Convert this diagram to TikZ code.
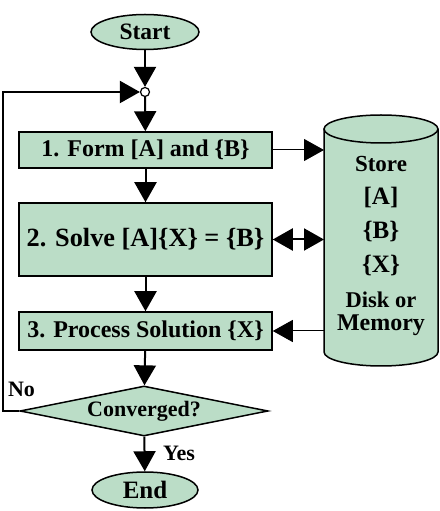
\documentclass[tikz,border=0pt]{standalone}
\usepackage{fontspec}
\setmainfont{Liberation Serif}
\usetikzlibrary{shapes.geometric,arrows.meta}
\definecolor{boxfill}{RGB}{187,221,199}
\newcommand{\fsz}[1]{\fontsize{#1}{#1}\selectfont\bfseries}
\begin{document}
\begin{tikzpicture}[x=1pt,y=1pt,
  lbl/.style={font=\fsz{24}},
  box/.style={draw=black, line width=1.5pt, fill=boxfill, rectangle, minimum width=253pt, inner sep=0pt, lbl},
  term/.style={draw=black, line width=1.5pt, fill=boxfill, ellipse, inner sep=0pt, lbl},
  tip/.tip={Triangle[length=20pt,width=22pt]},
  flow/.style={line width=2pt, -tip},
  flowthin/.style={line width=1pt, -tip},
  flowboth/.style={line width=2pt, tip-tip},
  cyl/.style={line width=1.5pt},
  cyltext/.style={lbl, anchor=base, inner sep=0pt}
]
\useasboundingbox (0,0) rectangle (439,511);
% cylinder
\fill[boxfill] (324,382) -- (324,159) arc[start angle=180,end angle=360,x radius=57,y radius=14]
  -- (438,382) arc[start angle=0,end angle=180,x radius=57,y radius=14] -- cycle;
\draw[cyl] (324,382) -- (324,159) arc[start angle=180,end angle=360,x radius=57,y radius=14] -- (438,382);
\draw[cyl] (381,382) ellipse[x radius=57,y radius=14];
\coordinate (c1) at (324,361);
\coordinate (c2) at (324,271.5);
\coordinate (c3) at (324,180);
\node[cyltext, font=\fsz{23}] (s1) at (381,339) {Store};
\node[cyltext, font=\fsz{25}] (s2) at (381,306) {[A]};
\node[cyltext, font=\fsz{25}] (s3) at (381,272) {\{B\}};
\node[cyltext, font=\fsz{25}] (s4) at (381,238) {\{X\}};
\node[cyltext, font=\fsz{22.5}] (s5) at (381,203) {Disk or};
\node[cyltext, font=\fsz{24}] (s6) at (381,180) {Memory};
% flow nodes
\node[term, minimum width=108pt, minimum height=35pt, font=\fsz{23.5}] (start) at (145,479) {Start};
\node[circle, draw=black, fill=white, line width=1.2pt, minimum size=9pt, inner sep=0pt] (junc) at (145,419) {};
\node[box, minimum height=36pt] (b1) at (145.5,361) {1. Form [A] and \{B\}};
\node[box, minimum height=73pt, font=\fsz{26.3}] (b2) at (145.5,271.5) {2. Solve [A]\{X\} = \{B\}};
\node[box, minimum height=38pt] (b3) at (145.5,180) {3. Process Solution \{X\}};
\node[diamond, draw=black, fill=boxfill, line width=1.5pt, aspect=4.96, minimum width=248pt, minimum height=50pt, inner sep=0pt, font=\fsz{22}] (dia) at (144,100) {Converged?};
\node[term, minimum width=106pt, minimum height=36pt, font=\fsz{25}] (end) at (145,21) {End};
\coordinate (fb) at (3,100);
% connectors
\draw[flow] (start) -- (junc);
\draw[flow] (junc) -- (b1);
\draw[flow] (b1) -- (b2);
\draw[flow] (b2) -- (b3);
\draw[flow] (b3) -- (dia);
\draw[flow] (dia) -- (end);
\draw[flow] (dia.west) -- (fb) |- (junc.west);
\draw[flowthin] (b1) -- (c1);
\draw[flowboth] (b2) -- (c2);
\draw[flowthin] (c3) -- (b3);
\node[font=\fsz{22}] (no) at (21.5,121.5) {No};
\node[font=\fsz{22}] (yes) at (179,58) {Yes};
\end{tikzpicture}
\end{document}
